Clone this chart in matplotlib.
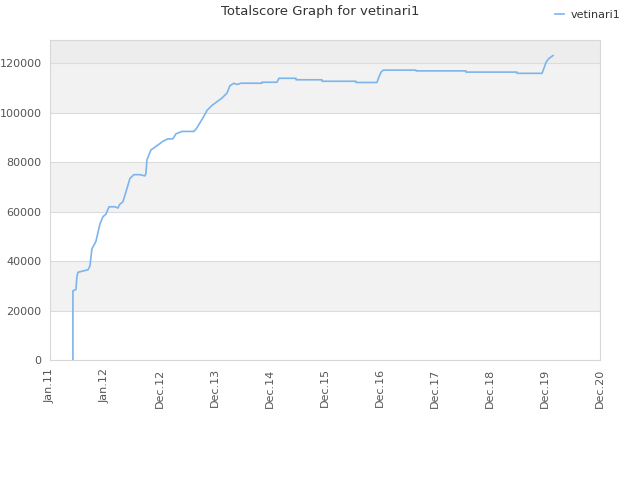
import matplotlib
matplotlib.use("Agg")
import matplotlib.pyplot as plt

# tick labels (evenly spaced on the axis)
tick_labels = ["Jan.11", "Jan.12", "Dec.12", "Dec.13", "Dec.14", "Dec.15",
               "Dec.16", "Dec.17", "Dec.18", "Dec.19", "Dec.20"]

# totalscore series, x in tick-index units
x_pos = [0.418, 0.418, 0.473, 0.490, 0.509, 0.60, 0.691, 0.727, 0.764, 0.80,
         0.836, 0.909, 0.964, 1.018, 1.073, 1.182, 1.236, 1.27, 1.327, 1.382,
         1.455, 1.527, 1.636, 1.727, 1.745, 1.764, 1.836, 1.964, 2.055, 2.145,
         2.236, 2.291, 2.4, 2.618, 2.673, 2.782, 2.855, 2.945, 3.036, 3.127,
         3.218, 3.273, 3.345, 3.40, 3.473, 3.855, 3.855, 4.127, 4.164, 4.473,
         4.473, 4.945, 4.945, 5.564, 5.564, 5.945, 5.98, 6.02, 6.06, 6.655,
         6.655, 7.564, 7.564, 8.491, 8.491, 8.945, 8.98, 9.02, 9.07, 9.145]
score = [0, 28000, 28500, 33500, 35500, 36000, 36500, 38000, 45000, 46500,
         48000, 55000, 58000, 59000, 62000, 62000, 61500, 63000, 64000, 68000,
         73500, 75000, 75000, 74500, 75500, 81000, 85000, 87000, 88500, 89500,
         89500, 91500, 92500, 92500, 94000, 98000, 101000, 103000, 104500, 106000,
         108000, 111000, 112000, 111500, 112000, 112000, 112400, 112400, 114000, 114000,
         113400, 113400, 112800, 112800, 112300, 112300, 114500, 116500, 117300, 117300,
         117000, 117000, 116500, 116500, 116000, 116000, 118000, 120500, 122000, 123200]

fig = plt.figure(figsize=(6.4, 4.8), dpi=100)
ax = fig.add_axes([0.078, 0.25, 0.8595, 0.6667])

ymax = 129500
# alternating background bands
for i, lo in enumerate(range(0, 140000, 20000)):
    hi = min(lo + 20000, ymax)
    if lo >= 120000:
        col = "#ededed"
    elif i % 2 == 1:
        col = "#f2f2f2"
    else:
        col = "white"
    ax.axhspan(lo, hi, color=col, zorder=0, lw=0)

for yv in range(20000, 140000, 20000):
    ax.axhline(yv, color="#dcdcdc", lw=0.8, zorder=1)

ax.plot(x_pos, score, color="#7cb5ec", lw=1.2, zorder=3, label="vetinari1")

ax.set_xlim(0, 10)
ax.set_ylim(0, ymax)
ax.set_xticks(range(len(tick_labels)))
ax.set_xticklabels(tick_labels, rotation=90, fontsize=8, color="#555555")
ax.set_yticks(range(0, 140000, 20000))
ax.set_yticklabels([str(v) for v in range(0, 140000, 20000)], fontsize=8, color="#555555")
ax.tick_params(length=0, pad=6)
for s in ax.spines.values():
    s.set_color("#d8d8d8")
    s.set_linewidth(0.8)

fig.text(0.5, 0.975, "Totalscore Graph for vetinari1", ha="center", va="center",
         fontsize=9.5, color="#333333")
leg = fig.legend(loc="upper right", bbox_to_anchor=(0.985, 1.0), frameon=False,
                 fontsize=8, handlelength=0.8, handletextpad=0.6)
for t in leg.get_texts():
    t.set_color("#333333")

fig.savefig("out.png", dpi=100)
